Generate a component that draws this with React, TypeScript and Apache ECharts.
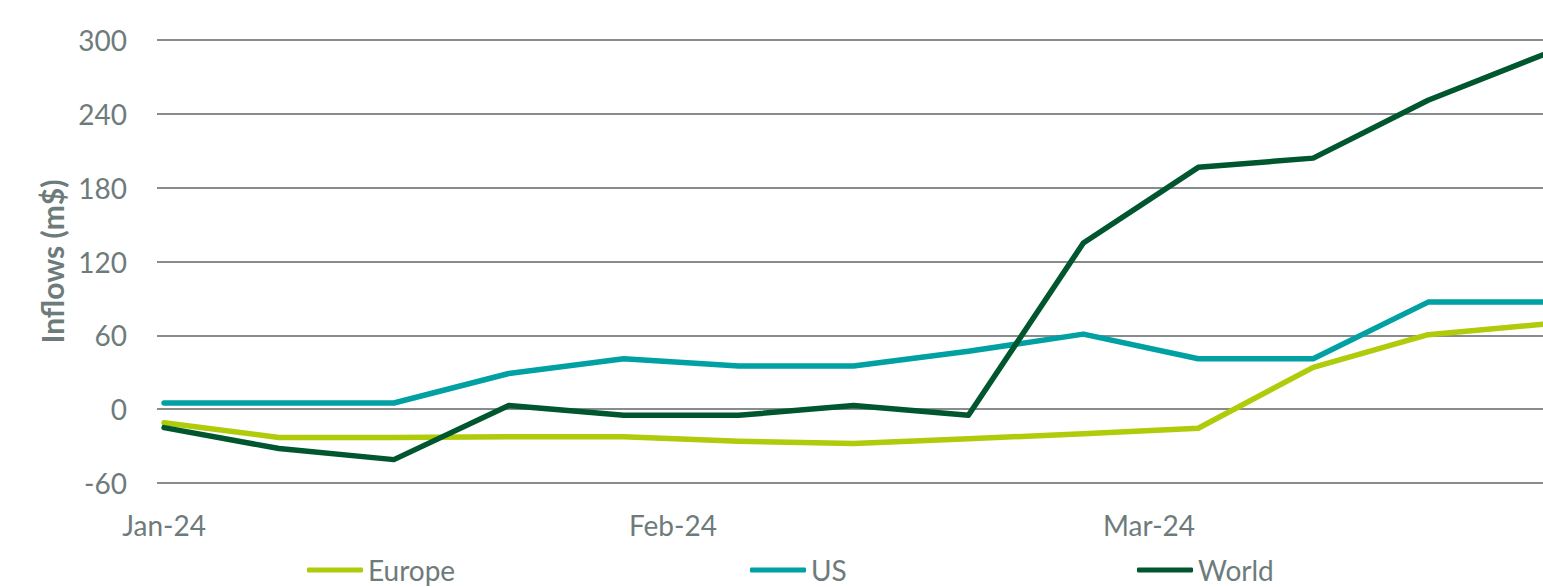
import React, { useEffect, useRef } from "react";
import * as echarts from "echarts";

const dates = [
  "2024-01-01", "2024-01-08", "2024-01-15", "2024-01-22", "2024-01-29",
  "2024-02-05", "2024-02-12", "2024-02-19", "2024-02-26",
  "2024-03-04", "2024-03-11", "2024-03-18", "2024-03-25",
];
const europe = [-11, -23, -23, -22.5, -22.5, -26, -28, -24, -20, -15.5, 34, 60.5, 69];
const us = [5, 5, 5, 29, 41, 35, 35, 47, 61, 41, 41, 87, 87];
const world = [-15, -32, -41, 3, -5, -5, 3, -5, 135, 196.5, 204, 251, 288];

const xTickDates = ["2024-01-01", "2024-02-01", "2024-03-01"];
const xTickLabels = ["Jan-24", "Feb-24", "Mar-24"];
const yMin = -60;
const yMax = 300;
const yStep = 60;

const seriesNames = ["Europe", "US", "World"];
const seriesColors = ["#AFCB0A", "#00A0A3", "#00572F"];

const DAY = 86400000;
const toDay = (s: string) => {
  const [y, m, d] = s.split("-").map(Number);
  return Math.round(Date.UTC(y, m - 1, d) / DAY);
};
const origin = toDay(dates[0]);
const dayIndex = (s: string) => toDay(s) - origin;

export default function App() {
  const ref = useRef<HTMLDivElement>(null);
  useEffect(() => {
    if (!ref.current) return;
    const chart = echarts.init(ref.current, null, { renderer: "svg" });
    const textColor = "#6E7B7B";
    const font = "Lato";
    const tickDays = xTickDates.map(dayIndex);
    const allData = [europe, us, world];
    const legendLefts = [307, 750, 1137];
    chart.setOption({
      animation: false,
      backgroundColor: "#ffffff",
      grid: { left: 157, right: 0, top: 40, bottom: 104, containLabel: false },
      legend: seriesNames.map((n, i) => ({
        data: [n],
        left: legendLefts[i],
        top: 556,
        icon: "roundRect",
        itemWidth: 56,
        itemHeight: 5,
        itemGap: 0,
        padding: 0,
        selectedMode: false,
        textStyle: { color: textColor, fontSize: 28, fontFamily: font },
      })),
      xAxis: {
        type: "value",
        min: -0.43,
        max: dayIndex(dates[dates.length - 1]),
        axisLine: { show: false },
        axisTick: { show: false },
        splitLine: { show: false },
        axisLabel: {
          customValues: tickDays,
          color: textColor,
          fontSize: 28,
          fontFamily: font,
          margin: 28,
          formatter: (v: number) => {
            const idx = tickDays.indexOf(v);
            return idx >= 0 ? xTickLabels[idx] : "";
          },
        },
      },
      yAxis: {
        type: "value",
        min: yMin,
        max: yMax,
        interval: yStep,
        name: "Inflows (m$)",
        nameLocation: "middle",
        nameGap: 90,
        nameRotate: 90,
        nameTextStyle: { color: textColor, fontSize: 30, fontWeight: "bold", fontFamily: font },
        axisLine: { show: false },
        axisTick: { show: false },
        axisLabel: { color: textColor, fontSize: 28, fontFamily: font, margin: 30 },
        splitLine: { lineStyle: { color: "#888C8C", width: 2 } },
      },
      series: seriesNames.map((n, i) => ({
        name: n,
        type: "line",
        data: dates.map((d, j) => [dayIndex(d), allData[i][j]]),
        symbol: "none",
        color: seriesColors[i],
        lineStyle: { color: seriesColors[i], width: 5.5, cap: "round", join: "round" },
        clip: false,
      })),
    });
    return () => chart.dispose();
  }, []);
  return (
    <div
      ref={ref}
      style={{ position: "fixed", left: 0, top: 0, width: 1543, height: 587, background: "#fff" }}
    />
  );
}
